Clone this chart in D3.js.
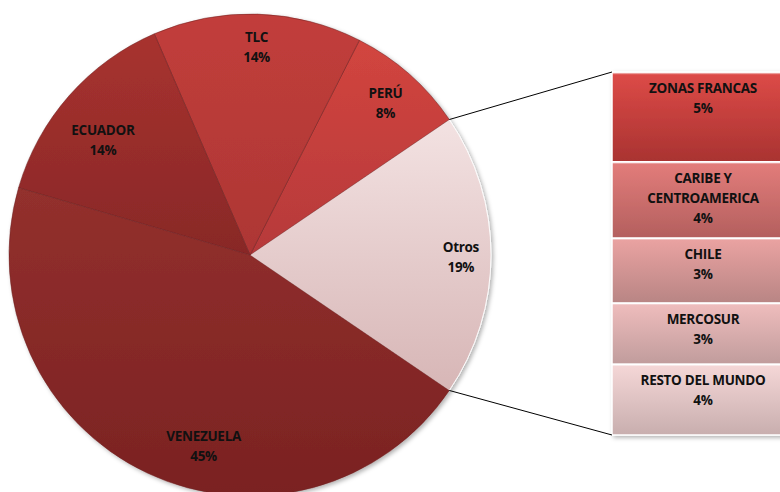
<!DOCTYPE html>
<html>
<head>
<meta charset="utf-8">
<script src="https://cdnjs.cloudflare.com/ajax/libs/d3/7.8.5/d3.min.js"></script>
<style>
  body { margin: 0; background: #fff; font-family: "Open Sans", Lato, sans-serif; }
  .lbl { font-weight: bold; font-size: 13.5px; fill: #111; letter-spacing: -0.3px; }
</style>
</head>
<body>
<div id="chart"></div>
<script>
// pie data
var pieNames  = ["OTROS", "PERÚ", "TLC", "ECUADOR", "VENEZUELA"];
var pieLabels = ["Otros", "PERÚ", "TLC", "ECUADOR", "VENEZUELA"];
var pieValues = [19, 8, 14, 14, 45];
var pieTop    = ["#f3e2e2", "#d2453f", "#c23e3b", "#a8322f", "#93302d"];
var pieBottom = ["#d7b6b6", "#b6393a", "#ad3634", "#882827", "#7a2222"];

// bar (breakdown of "Otros")
var barNames  = [["ZONAS FRANCAS"], ["CARIBE Y", "CENTROAMERICA"], ["CHILE"], ["MERCOSUR"], ["RESTO DEL MUNDO"]];
var barValues = [4.7, 4.0, 3.4, 3.2, 3.7];
var barPct    = ["5%", "4%", "3%", "3%", "4%"];
var barTop    = ["#dc4a47", "#e27c7a", "#e9a2a1", "#eebcbc", "#f4d6d6"];
var barBottom = ["#a93331", "#b35f5e", "#b88584", "#c09c9c", "#c8aeae"];

var W = 780, H = 492;
var cx = 250, cy = 255, R = 241;

var svg = d3.select("#chart").append("svg")
  .attr("width", W).attr("height", H);

var defs = svg.append("defs");
var f = defs.append("filter").attr("id", "sh").attr("x", "-10%").attr("y", "-10%").attr("width", "130%").attr("height", "130%");
f.append("feDropShadow").attr("dx", 2).attr("dy", 2).attr("stdDeviation", 2)
  .attr("flood-color", "#000").attr("flood-opacity", 0.3);

pieNames.forEach(function(n, i) {
  var g = defs.append("linearGradient").attr("id", "pg" + i)
    .attr("x1", 0).attr("y1", 0).attr("x2", 0).attr("y2", 1);
  g.append("stop").attr("offset", "0%").attr("stop-color", pieTop[i]);
  g.append("stop").attr("offset", "100%").attr("stop-color", pieBottom[i]);
});
barNames.forEach(function(n, i) {
  var g = defs.append("linearGradient").attr("id", "bg" + i)
    .attr("x1", 0).attr("y1", 0).attr("x2", 0).attr("y2", 1);
  g.append("stop").attr("offset", "0%").attr("stop-color", "#fff").attr("stop-opacity", 0.9);
  g.append("stop").attr("offset", "3%").attr("stop-color", barTop[i]);
  g.append("stop").attr("offset", "100%").attr("stop-color", barBottom[i]);
});

// pie: Otros centred on the right (3 o'clock), others go counter-clockwise
var otrosAngle = pieValues[0] / d3.sum(pieValues) * 2 * Math.PI;
var pie = d3.pie().sort(null).value(function(d) { return d; })
  .startAngle(Math.PI / 2 + otrosAngle / 2)
  .endAngle(Math.PI / 2 + otrosAngle / 2 - 2 * Math.PI);
var arcs = pie(pieValues);
var arc = d3.arc().innerRadius(0).outerRadius(R);

var gp = svg.append("g").attr("transform", "translate(" + cx + "," + cy + ")");
gp.append("g").attr("filter", "url(#sh)")
  .selectAll("path").data(arcs).enter().append("path")
  .attr("d", arc)
  .attr("fill", function(d, i) { return "url(#pg" + i + ")"; })
  .attr("stroke", function(d, i) { return i === 0 ? "#fff" : "#6e2020"; })
  .attr("stroke-opacity", function(d, i) { return i === 0 ? 0.9 : 0.5; })
  .attr("stroke-width", 1);

// label placement tweaks (radius fraction, angle shift in radians)
var labelR = [0.875, 0.85, 0.87, 0.78, 0.81];
var labelShift = [0, 0, 0, -0.05, -0.2];
arcs.forEach(function(d, i) {
  var a = (d.startAngle + d.endAngle) / 2 + labelShift[i];
  var r = R * labelR[i];
  var x = r * Math.sin(a), y = -r * Math.cos(a);
  var t = gp.append("text").attr("class", "lbl").attr("text-anchor", "middle")
    .attr("x", x).attr("y", y);
  t.append("tspan").attr("x", x).attr("dy", "-0.25em").text(pieLabels[i]);
  t.append("tspan").attr("x", x).attr("dy", "1.5em").text(Math.round(pieValues[i]) + "%");
});

// bar of pie
var bx = 612, bw = 184, by0 = 72, by1 = 435;
var y = d3.scaleLinear().domain([0, d3.sum(barValues)]).range([by0, by1]);
var cum = 0;
var segs = barValues.map(function(v, i) { var s = {i: i, a: cum, b: cum + v}; cum += v; return s; });

var gb = svg.append("g");
gb.append("g").attr("filter", "url(#sh)")
  .selectAll("rect").data(segs).enter().append("rect")
  .attr("x", bx).attr("width", bw)
  .attr("y", function(d) { return y(d.a); })
  .attr("height", function(d) { return y(d.b) - y(d.a); })
  .attr("fill", function(d) { return "url(#bg" + d.i + ")"; })
  .attr("stroke", "#fff").attr("stroke-width", 1.5);

segs.forEach(function(d) {
  var lines = barNames[d.i].concat([barPct[d.i]]);
  var t = gb.append("text").attr("class", "lbl").attr("text-anchor", "middle");
  lines.forEach(function(l, k) {
    t.append("tspan").attr("x", 703).attr("y", y(d.a) + 21 + k * 20).text(l);
  });
});

// connector lines: upper edge of Otros to bar top, lower edge to bar bottom
var o = arcs[0];
[[o.endAngle, by0], [o.startAngle, by1]].forEach(function(p) {
  svg.append("line")
    .attr("x1", cx + R * Math.sin(p[0])).attr("y1", cy - R * Math.cos(p[0]))
    .attr("x2", bx).attr("y2", p[1])
    .attr("stroke", "#000").attr("stroke-width", 1);
});
</script>
</body>
</html>
